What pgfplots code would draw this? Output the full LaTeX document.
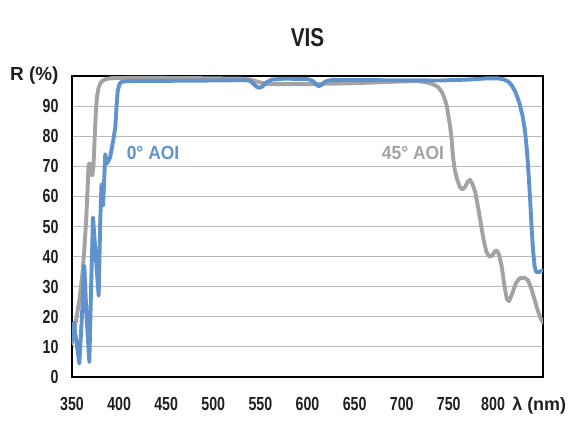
\documentclass[border=0pt]{standalone}
\usepackage{fontspec}
\setmainfont{Liberation Sans}
\newfontfamily\numfont{Liberation Sans}[FakeStretch=0.75]
\newfontfamily\titlefont{Liberation Sans}[FakeStretch=0.8]
\newfontfamily\labfont{Liberation Sans}
\newfontfamily\annfont{Liberation Sans}[FakeStretch=0.92]
\usepackage{pgfplots}
\pgfplotsset{compat=1.18}
\definecolor{aoiblue}{RGB}{96,146,206}
\definecolor{aoigray}{RGB}{163,163,163}
\definecolor{gridc}{RGB}{185,185,185}
\definecolor{txt}{RGB}{35,31,32}

\pgfplotstableread{
x y
350 11
352 15
355 20
358 26
361 34
363 42
365 52
366.5 62
367.5 70
368.5 71
370 67.5
371.5 67
372.8 70
374 79
375.3 88
376.5 93
378 95.8
380 97.5
382.5 98.4
386 99
392 99.3
420 99.4
480 99.3
530 99.1
540 98.8
548 98.0
556 97.4
570 97.3
600 97.3
650 97.6
700 98.2
715 98.3
725 98.0
732 97.4
738 96.5
742 95
745 93
747.5 90.5
749.5 87
751.5 83
753 79
754.5 73
756.5 68.5
759 65.5
762 63
764.5 62.3
767 63
770 64.8
772.5 65.5
775 64.2
778 61.5
781 56.5
784 51
787 45.5
790 41.5
793 40
796 40.3
799 41.8
801 42
803.5 40.5
806 37
809 30.5
811.5 26
814 25.2
817 27.5
821 31
825 32.8
830 33
834 32.2
838 29
841 25.8
844.5 22
847.5 19.5
850 18
}\grayaoi

\pgfplotstableread{
x y
350 12
352 18
355 11
357.8 4.5
360.5 20
363 37
365.5 20
368.4 5
370.3 30
372.3 53
375.3 40
378.3 27
380 52
381.3 64
383 57
385.3 74
387.3 71
390.5 73
394 79
396 83
397.3 90
398.5 95
400.5 97.4
403 98.1
410 98.3
500 98.5
530 98.6
538 98.5
542 97.6
546 96.4
549 96.1
552 96.5
556 97.8
562 98.8
575 99.1
600 99.0
606 98.3
609 97.2
612 96.6
615 97.1
619 98.2
626 98.7
680 98.6
740 98.5
770 98.8
790 99.2
802 99.2
808 98.9
813 98.2
817 96.8
821 94.5
825 91
828.5 86.5
831 81.5
833 75
835 66
836.5 58
838 49
839.5 42
841 37
842.5 35
845 34.8
848 35.2
850 35.5
}\blueaoi

\begin{document}
\begin{tikzpicture}
\begin{axis}[
  width=471bp, height=301bp, scale only axis,
  xmin=350, xmax=850, ymin=0, ymax=100,
  xtick={350,400,450,500,550,600,650,700,750,797,846},
  xticklabels={350,400,450,500,550,600,650,700,750,800,{\labfont\fontsize{18}{20}\selectfont λ (nm)}},
  ytick={0,10,20,30,40,50,60,70,80,90,100},
  yticklabels={0,10,20,30,40,50,60,70,80,90,{\labfont R (\%)}},
  major tick length=0pt,
  ymajorgrids,
  grid style={gridc, line width=0.9bp},
  axis line style={line width=2.4bp, black},
  ticklabel style={font=\numfont\bfseries\fontsize{19}{20}\selectfont, text=txt},
  xticklabel style={anchor=base, yshift=-33bp},
  yticklabel style={xshift=-10bp},
  title={VIS},
  title style={at={(axis description cs:0.5,1)}, anchor=base, yshift=24bp,
    font=\titlefont\bfseries\fontsize{26}{28}\selectfont, text=txt},
  clip=true,
]
\addplot[aoigray, line width=3.9bp, line join=round, line cap=round] table[x=x,y=y] {\grayaoi};
\addplot[aoiblue, line width=3.9bp, line join=round, line cap=round] table[x=x,y=y] {\blueaoi};
\node[text=aoiblue, font=\annfont\bfseries\fontsize{19}{20}\selectfont] at (axis cs:436,74.4) {0° AOI};
\node[text=aoigray, font=\annfont\bfseries\fontsize{19}{20}\selectfont] at (axis cs:712,74.4) {45° AOI};
\end{axis}
\pgfresetboundingbox
\path[use as bounding box] ([xshift=-72bp,yshift=-66bp]current axis.south west) rectangle ([xshift=27bp,yshift=76bp]current axis.north east);
\end{tikzpicture}
\end{document}
